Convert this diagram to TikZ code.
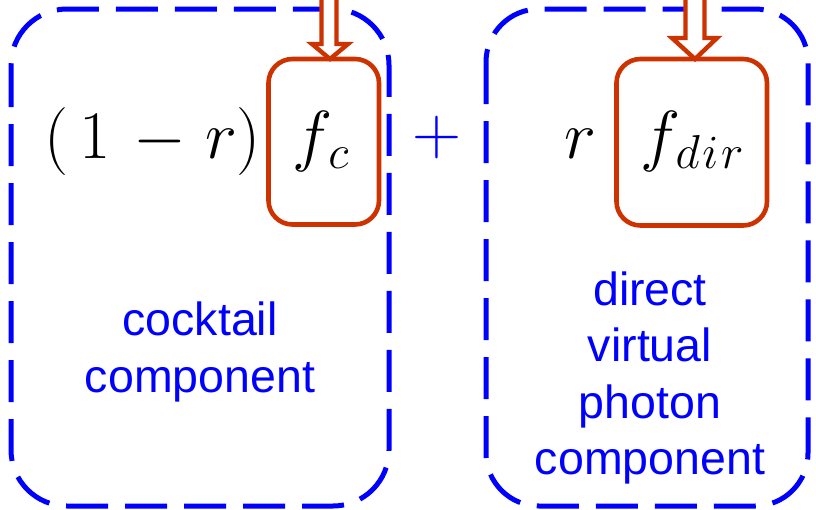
\RequirePackage{fix-cm}
\documentclass[tikz,border=0pt]{standalone}
\usepackage{fontspec}
\setsansfont{Liberation Sans}
\definecolor{redbox}{RGB}{204,51,0}
\definecolor{pblue}{RGB}{0,0,255}
\begin{document}
\begin{tikzpicture}[x=1pt,y=-1pt,
  groupbox/.style={draw=pblue,line width=5pt,dash pattern=on 42pt off 17pt},
  termbox/.style={draw=redbox,line width=4.6pt,rounded corners=24pt},
  hollowarrow/.style={draw=redbox,fill=white,line width=4.4pt,line join=miter},
  mathtext/.style={inner sep=0pt,anchor=base,font=\fontsize{68}{74}\selectfont},
  label/.style={inner sep=0pt,anchor=base,text=pblue,font=\sffamily\fontsize{46.5}{57}\selectfont}]
\useasboundingbox (0,0) rectangle (816,509);
% blue dashed group boxes
\draw[groupbox,rounded corners=56pt] (11,9) rectangle (389,506);
\draw[groupbox,rounded corners=53pt] (486,9) rectangle (808,506);
% red term boxes
\draw[termbox] (268.5,59) rectangle (379,224.5);
\draw[termbox] (616.5,59) rectangle (767,225.5);
% hollow arrows
\draw[hollowarrow] (321.5,-10) -- (321.5,44) -- (312,44) -- (330,59) -- (348,44) -- (336.5,44) -- (336.5,-10);
\draw[hollowarrow] (685.5,-10) -- (685.5,38) -- (672,38) -- (695,59) -- (717,38) -- (704.5,38) -- (704.5,-10);
% math
\node[mathtext] (onemr) at (152.5,158) {$(\mskip3mu 1\mskip2mu-\mskip1mu r)$};
\node[mathtext] (fc) at (321,158) {$f_{\mskip1mu c}$};
\node[mathtext,text=pblue] (plus) at (437,154) {$+$};
\node[mathtext] (r) at (580,158) {$r$};
\node[mathtext] (fdir) at (692,158) {$f_{\mskip1mu d\mskip1mu i\mskip1mu r}$};
% labels
\node[label] (l1) at (200,335) {cocktail};
\node[label] (l2) at (200,392) {component};
\node[label] (r1) at (650,305) {direct};
\node[label] (r2) at (650,361.5) {virtual};
\node[label] (r3) at (650,418) {photon};
\node[label] (r4) at (650,474) {component};
\end{tikzpicture}
\end{document}
